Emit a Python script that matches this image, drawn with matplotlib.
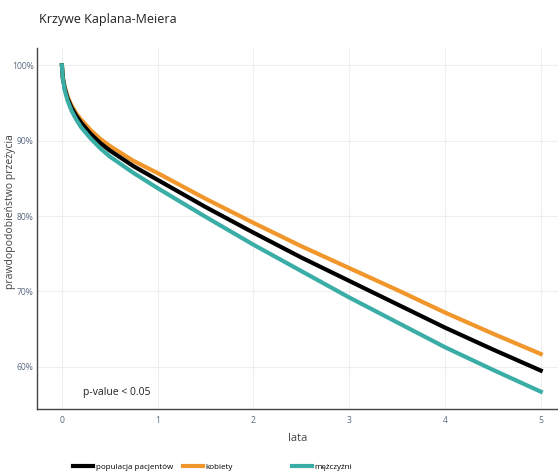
import matplotlib.pyplot as plt
from matplotlib.ticker import FuncFormatter

plt.rcParams['font.family'] = ['Open Sans', 'DejaVu Sans']

# years since diagnosis and survival probability (%)
lata = [0, 0.01, 0.03, 0.06, 0.1, 0.15, 0.2, 0.3, 0.4, 0.5, 0.75,
        1, 1.5, 2, 2.5, 3, 3.5, 4, 4.5, 5]
populacja = [100, 98.3, 96.9, 95.6, 94.4, 93.3, 92.4, 90.9, 89.7, 88.7, 86.6,
             84.8, 81.2, 77.8, 74.5, 71.4, 68.3, 65.2, 62.3, 59.5]
kobiety = [100, 98.4, 97.1, 95.8, 94.7, 93.6, 92.8, 91.4, 90.25, 89.3, 87.3,
           85.7, 82.3, 79.1, 76.0, 73.1, 70.2, 67.2, 64.4, 61.7]
mezczyzni = [100, 98.2, 96.7, 95.3, 94.0, 92.8, 91.8, 90.3, 89.0, 87.9, 85.7,
             83.7, 79.9, 76.2, 72.7, 69.2, 65.9, 62.6, 59.6, 56.7]

x_ticks = [0, 1, 2, 3, 4, 5]
y_ticks = [60, 70, 80, 90, 100]

fig = plt.figure(figsize=(5.58, 4.75), dpi=100)
ax = fig.add_axes([37 / 558, 66 / 475, 521 / 558, 361 / 475])

l1, = ax.plot(lata, populacja, color='black', lw=3, label='populacja pacjentów', zorder=3)
l2, = ax.plot(lata, kobiety, color='#f0962a', lw=3, label='kobiety', zorder=2)
l3, = ax.plot(lata, mezczyzni, color='#3aaea6', lw=3, label='mężczyźni', zorder=4)

ax.set_xlim(-0.26, 5.18)
ax.set_ylim(54.4, 102.3)
ax.set_xticks(x_ticks)
ax.set_yticks(y_ticks)
ax.yaxis.set_major_formatter(FuncFormatter(lambda v, p: f'{v:.0f}%'))
ax.tick_params(length=0, labelsize=6.2, labelcolor='#5a6a80')
ax.tick_params(axis='y', pad=2.5)
ax.tick_params(axis='x', pad=5)
ax.grid(True, color='#eeeeee', lw=0.8)
ax.set_axisbelow(True)
for s in ['top', 'right']:
    ax.spines[s].set_visible(False)
for s in ['left', 'bottom']:
    ax.spines[s].set_color('#444444')
    ax.spines[s].set_linewidth(1)

ax.set_xlabel('lata', fontsize=8, color='#444444', labelpad=6)
fig.text(11 / 558, 1 - 212 / 475, 'prawdopodobieństwo przeżycia', rotation=90,
         fontsize=7.5, color='#444444', ha='center', va='center')
ax.text(0.088, 0.047, 'p-value < 0.05', transform=ax.transAxes, fontsize=7.5,
        color='#222222', va='center')

fig.text(39 / 558, 1 - 19 / 475, 'Krzywe Kaplana-Meiera', fontsize=9,
         color='#222222', va='center')

# horizontal legend entries placed like the original
for h, xpos in [(l1, 73), (l2, 183), (l3, 292)]:
    fig.legend(handles=[h], loc='center left', bbox_to_anchor=(xpos / 558, 1 - 467 / 475),
               frameon=False, fontsize=5.8, handlelength=2.5, handletextpad=0.3,
               borderaxespad=0, borderpad=0)

fig.savefig('out.png', dpi=100, facecolor='white')
